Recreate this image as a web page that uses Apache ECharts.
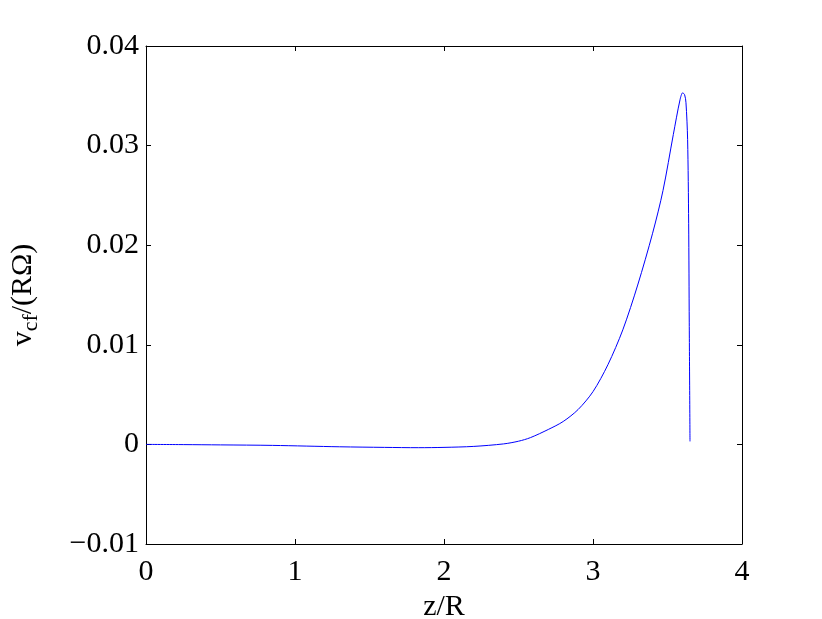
<!DOCTYPE html>
<html>
<head>
<meta charset="utf-8">
<script src="https://cdn.jsdelivr.net/npm/echarts@6/dist/echarts.min.js"></script>
<style>
  html, body { margin: 0; padding: 0; background: #fff; }
  #chart { width: 822px; height: 619px; }
</style>
</head>
<body>
<div id="chart"></div>
<script>
// z/R 位置
const zValues = [0, 0.25, 0.5, 0.85, 1.3, 1.6, 1.83, 2.0, 2.2, 2.4, 2.5, 2.58, 2.7, 2.8, 2.9, 3.0,
  3.1, 3.2, 3.3, 3.4, 3.47, 3.539, 3.584, 3.602, 3.615, 3.624, 3.635, 3.642, 3.646, 3.651];
// v_cf/(RΩ)
const vValues = [0, -0.00002, -0.00005, -0.0001, -0.00024, -0.0003, -0.00033, -0.0003, -0.0002, 0.00005,
  0.00032, 0.00068, 0.0015, 0.0023, 0.0035, 0.0053, 0.0080, 0.0115, 0.0160, 0.0212, 0.0255, 0.0311,
  0.0346, 0.0353, 0.0351, 0.0343, 0.0306, 0.0222, 0.0122, 0.0003];

const xTicks = { min: 0, max: 4, interval: 1 };
const yTicks = { min: -0.01, max: 0.04, interval: 0.01 };

const fontFamily = "'Liberation Serif', 'DejaVu Serif', serif";

function yLabel(v) {
  if (Math.abs(v) < 1e-9) return "0";
  if (v < 0) return "\u2212" + Math.abs(v).toFixed(2);
  return v.toFixed(2);
}

const chart = echarts.init(document.getElementById("chart"));

const points = zValues.map((z, i) => [z, vValues[i]]);

const option = {
  animation: false,
  backgroundColor: "#fff",
  grid: { left: 146, right: 80, top: 46, bottom: 75, containLabel: false, outerBoundsMode: "none" },
  xAxis: [
    {
      type: "value",
      min: xTicks.min,
      max: xTicks.max,
      interval: xTicks.interval,
      name: "z/R",
      nameLocation: "middle",
      nameGap: 38,
      nameTextStyle: { color: "#000", fontSize: 30, fontFamily: fontFamily },
      axisLine: { show: true, onZero: false, lineStyle: { color: "#000", width: 1 } },
      axisTick: { show: true, inside: true, length: 5, lineStyle: { color: "#000" } },
      axisLabel: { color: "#000", fontSize: 30, fontFamily: fontFamily, margin: 13 },
      splitLine: { show: false },
    },
    {
      type: "value",
      position: "top",
      min: xTicks.min,
      max: xTicks.max,
      interval: xTicks.interval,
      axisLine: { show: true, onZero: false, lineStyle: { color: "#000", width: 1 } },
      axisTick: { show: true, inside: true, length: 5, lineStyle: { color: "#000" } },
      axisLabel: { show: false },
      splitLine: { show: false },
    },
  ],
  yAxis: [
    {
      type: "value",
      min: yTicks.min,
      max: yTicks.max,
      interval: yTicks.interval,
      name: "v{sub|cf}/(RΩ)",
      nameLocation: "middle",
      nameRotate: 90,
      nameGap: 104,
      nameTextStyle: {
        color: "#000",
        fontSize: 30,
        fontFamily: fontFamily,
        rich: {
          sub: { fontSize: 22, fontFamily: fontFamily, color: "#000", padding: [15, 0, 0, 0] },
        },
      },
      axisLine: { show: true, onZero: false, lineStyle: { color: "#000", width: 1 } },
      axisTick: { show: true, inside: true, length: 5, lineStyle: { color: "#000" } },
      axisLabel: { color: "#000", fontSize: 30, fontFamily: fontFamily, margin: 7, formatter: yLabel },
      splitLine: { show: false },
    },
    {
      type: "value",
      position: "right",
      min: yTicks.min,
      max: yTicks.max,
      interval: yTicks.interval,
      axisLine: { show: true, onZero: false, lineStyle: { color: "#000", width: 1 } },
      axisTick: { show: true, inside: true, length: 5, lineStyle: { color: "#000" } },
      axisLabel: { show: false },
      splitLine: { show: false },
    },
  ],
  series: [
    {
      type: "line",
      data: points,
      xAxisIndex: 0,
      yAxisIndex: 0,
      smooth: 0.3,
      showSymbol: false,
      lineStyle: { color: "#0000ff", width: 1 },
    },
  ],
};

chart.setOption(option);
</script>
</body>
</html>
